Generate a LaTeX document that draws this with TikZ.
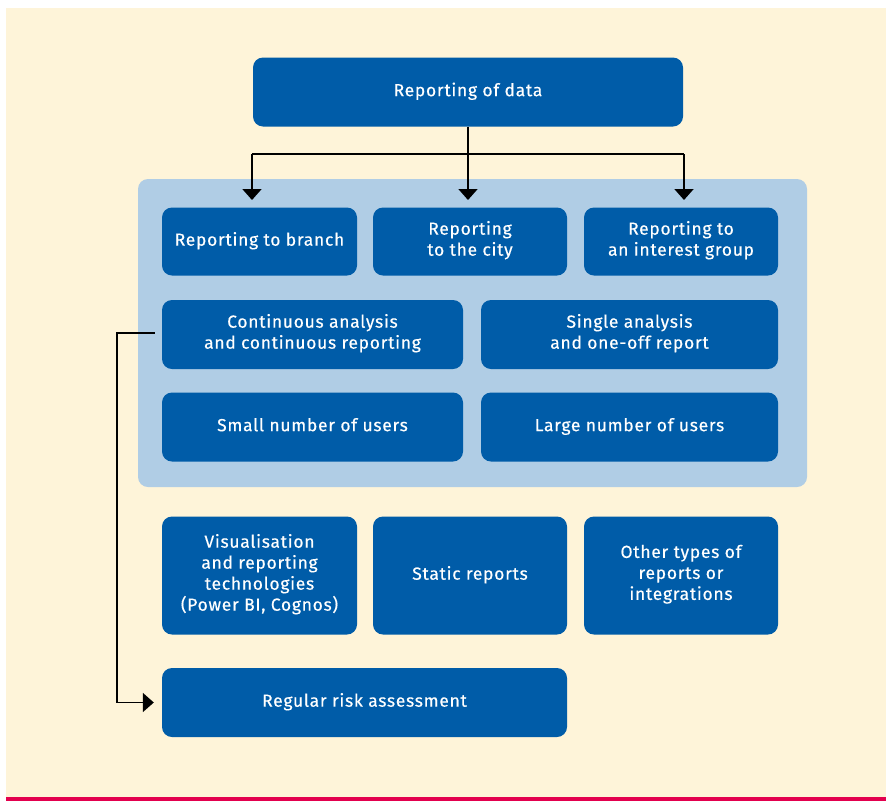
\documentclass[tikz,border=0pt]{standalone}
\usepackage{fontspec}
\setmainfont{Fira Sans}[LetterSpace=4, FakeBold=0.35]
\usetikzlibrary{arrows.meta}
\definecolor{cream}{RGB}{254,244,217}
\definecolor{boxblue}{RGB}{0,92,168}
\definecolor{panelblue}{RGB}{176,205,229}
\definecolor{accentred}{RGB}{227,0,78}
\tikzset{
  blk/.style={fill=boxblue, rounded corners=10pt, text=white, align=center,
    inner sep=0pt, font=\fontsize{17.5}{21}\selectfont,
    execute at begin node=\strut, execute at end node=\strut},
  link/.style={line width=1.8pt, black},
  linkarrow/.style={link, -{Triangle[width=19pt,length=11pt]}},
}
\begin{document}
\begin{tikzpicture}[x=1pt, y=-1pt]
\useasboundingbox (0,0) rectangle (886,801);
% page background and bottom rule
\fill[cream] (6,8) rectangle (886,797);
\fill[accentred] (6,797) rectangle (886,801);
% grouping panel
\fill[panelblue, rounded corners=10pt] (138,179) rectangle (807,487);

% boxes
\node[blk, minimum width=430pt, minimum height=69pt] (top) at (468,92) {Reporting of data};

\node[blk, minimum width=195pt, minimum height=68pt] (ra) at (259.5,241.5) {Reporting to branch};
\node[blk, minimum width=194pt, minimum height=68pt] (rb) at (470,241.5) {Reporting\\to the city};
\node[blk, minimum width=194pt, minimum height=68pt] (rc) at (681,241.5) {Reporting to\\an interest group};

\node[blk, minimum width=301pt, minimum height=69pt] (ca) at (312.5,334.5) {Continuous analysis\\and continuous reporting};
\node[blk, minimum width=297pt, minimum height=69pt] (sa) at (629.5,334.5) {Single analysis\\and one-off report};

\node[blk, minimum width=301pt, minimum height=69pt] (su) at (312.5,427) {Small number of users};
\node[blk, minimum width=297pt, minimum height=69pt] (lu) at (629.5,427) {Large number of users};

\node[blk, minimum width=195pt, minimum height=118pt] (vis) at (259.5,575.5) {Visualisation\\and reporting\\technologies\\(Power BI, Cognos)};
\node[blk, minimum width=194pt, minimum height=118pt] (stat) at (470,575.5) {Static reports};
\node[blk, minimum width=194pt, minimum height=118pt] (oth) at (681,575.5) {Other types of\\reports or\\integrations};

\node[blk, minimum width=405pt, minimum height=69pt] (risk) at (364.5,702.5) {Regular risk assessment};

% branching connector from the top box
\coordinate (jm) at (468,154);
\coordinate (jl) at (252,154);
\coordinate (jr) at (684,154);
\coordinate (el) at (252,200);
\coordinate (em) at (468,200);
\coordinate (er) at (684,200);
\draw[link] (top.south) -- (jm);
\draw[link] (jl) -- (jr);
\draw[linkarrow] (jl) -- (el);
\draw[linkarrow] (jm) -- (em);
\draw[linkarrow] (jr) -- (er);

% feedback connector to risk assessment
\coordinate (fs) at ([xshift=-7pt,yshift=1.5pt]ca.west);
\coordinate (fe) at ([xshift=-8pt]risk.west);
\draw[linkarrow] (fs) -- ++(-38,0) |- (fe);
\end{tikzpicture}
\end{document}
